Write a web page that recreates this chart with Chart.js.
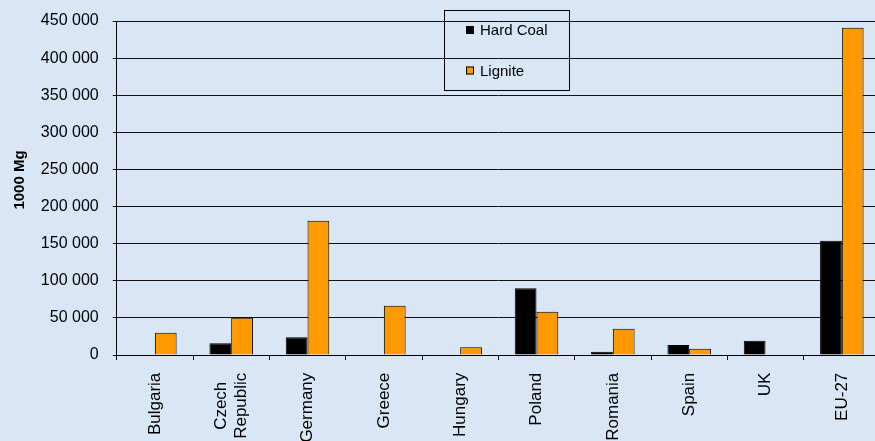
<!DOCTYPE html>
<html>
<head>
<meta charset="utf-8">
<title>Hard coal and lignite production</title>
<script src="https://cdn.jsdelivr.net/npm/chart.js@4.4.1/dist/chart.umd.min.js"></script>
<style>
  html, body { margin: 0; padding: 0; overflow: hidden; background: #d8e6f5; }
  #wrap { width: 880px; height: 441px; }
</style>
</head>
<body>
<div id="wrap"><canvas id="c" width="880" height="441"></canvas></div>
<script>
// Countries along the x axis (multi-line where the label wraps)
const countries = ['Bulgaria', ['Czech', 'Republic'], 'Germany', 'Greece', 'Hungary',
                   'Poland', 'Romania', 'Spain', 'UK', 'EU-27'];

// Production, 1000 Mg
const hardCoal = [null, 15700, 23800, null, null, 89800, 4500, 13500, 19300, 154000];
const lignite  = [30000, 50200, 180800, 66400, 10400, 58400, 35500, 8500, null, 441000];

// Value axis
const yMin = 0;
const yMax = 450000;
const yStep = 50000;
const yTitle = '1000 Mg';

const seriesNames = ['Hard Coal', 'Lignite'];
const seriesColors = ['#000000', '#ff9900'];

// 450000 -> "450 000"
const fmt = v => String(v).replace(/\B(?=(\d{3})+(?!\d))/g, ' ');

const FONT = '"Liberation Sans", Arial, sans-serif';
const X_FONT_SIZE = 17;

// Page-coloured backdrop behind the whole chart
const backdrop = {
  id: 'backdrop',
  beforeDraw(chart) {
    const { ctx, width, height } = chart;
    ctx.save();
    ctx.fillStyle = '#d8e6f5';
    ctx.fillRect(0, 0, width, height);
    ctx.restore();
  }
};

// Category names, rotated and reading upwards; wrapped lines are centred
// on each other and the block ends just below the tick marks.
const categoryLabels = {
  id: 'categoryLabels',
  afterDraw(chart) {
    const { ctx } = chart;
    const xs = chart.scales.x;
    const lh = X_FONT_SIZE * 1.2;
    const endY = xs.top + 17.7;
    ctx.save();
    ctx.fillStyle = '#000';
    ctx.font = X_FONT_SIZE + 'px ' + FONT;
    ctx.textBaseline = 'middle';
    ctx.textAlign = 'center';
    chart.data.labels.forEach((lab, i) => {
      const lines = Array.isArray(lab) ? lab : [lab];
      const widths = lines.map(t => ctx.measureText(t).width);
      const longest = Math.max(...widths);
      const cx = xs.getPixelForTick(i);
      const first = cx - (lines.length - 1) * lh / 2;
      lines.forEach((t, j) => {
        ctx.save();
        ctx.translate(first + j * lh, endY + longest / 2);
        ctx.rotate(-Math.PI / 2);
        ctx.fillText(t, 0, 0);
        ctx.restore();
      });
    });
    ctx.restore();
  }
};

// Rotated bold axis title and the boxed legend inside the plot
const overlay = {
  id: 'overlay',
  afterDraw(chart) {
    const { ctx } = chart;
    ctx.save();
    ctx.fillStyle = '#000';
    ctx.font = 'bold 15px ' + FONT;
    ctx.textAlign = 'center';
    ctx.textBaseline = 'middle';
    ctx.translate(20, 180);
    ctx.rotate(-Math.PI / 2);
    ctx.fillText(yTitle, 0, 0);
    ctx.restore();

    ctx.save();
    ctx.strokeStyle = '#000';
    ctx.lineWidth = 1;
    ctx.strokeRect(444.5, 10.5, 125, 80);
    ctx.font = '15px ' + FONT;
    ctx.textBaseline = 'middle';
    ctx.textAlign = 'left';
    const rows = [30, 70.5];
    seriesNames.forEach((name, i) => {
      const y = rows[i];
      ctx.fillStyle = seriesColors[i];
      ctx.fillRect(466, y - 4, 8, 8);
      ctx.strokeStyle = '#000';
      ctx.strokeRect(466.5, y - 3.5, 7, 7);
      ctx.fillStyle = '#000';
      ctx.fillText(name, 480, y + 1);
    });
    ctx.restore();
  }
};

new Chart(document.getElementById('c'), {
  type: 'bar',
  data: {
    labels: countries,
    datasets: [
      { label: seriesNames[0], data: hardCoal, backgroundColor: seriesColors[0],
        borderColor: '#000', borderWidth: 1 },
      { label: seriesNames[1], data: lignite, backgroundColor: seriesColors[1],
        borderColor: '#000', borderWidth: 1 }
    ]
  },
  options: {
    responsive: false,
    devicePixelRatio: 1,
    animation: false,
    layout: { padding: { top: 21, left: 0, right: 0, bottom: 0 } },
    datasets: { bar: { barPercentage: 1, categoryPercentage: 0.57 } },
    plugins: { legend: { display: false }, tooltip: { enabled: false } },
    scales: {
      x: {
        offset: true,
        grid: { offset: true, drawOnChartArea: false, drawTicks: true, tickLength: 5, color: '#000' },
        border: { display: true, color: '#000' },
        ticks: { display: false, autoSkip: false },
        afterFit(s) { s.height = 86; s.paddingLeft = 0; s.paddingRight = 0; }
      },
      y: {
        min: yMin, max: yMax,
        grid: { color: '#111', lineWidth: 1, tickLength: 4 },
        border: { display: true, color: '#000' },
        ticks: {
          stepSize: yStep, padding: 14, color: '#000',
          font: { family: FONT, size: 16 },
          callback: v => fmt(v)
        },
        afterFit(s) { s.width = 116.7; s.paddingTop = 0; s.paddingBottom = 0; }
      }
    }
  },
  plugins: [backdrop, categoryLabels, overlay]
});
</script>
</body>
</html>
